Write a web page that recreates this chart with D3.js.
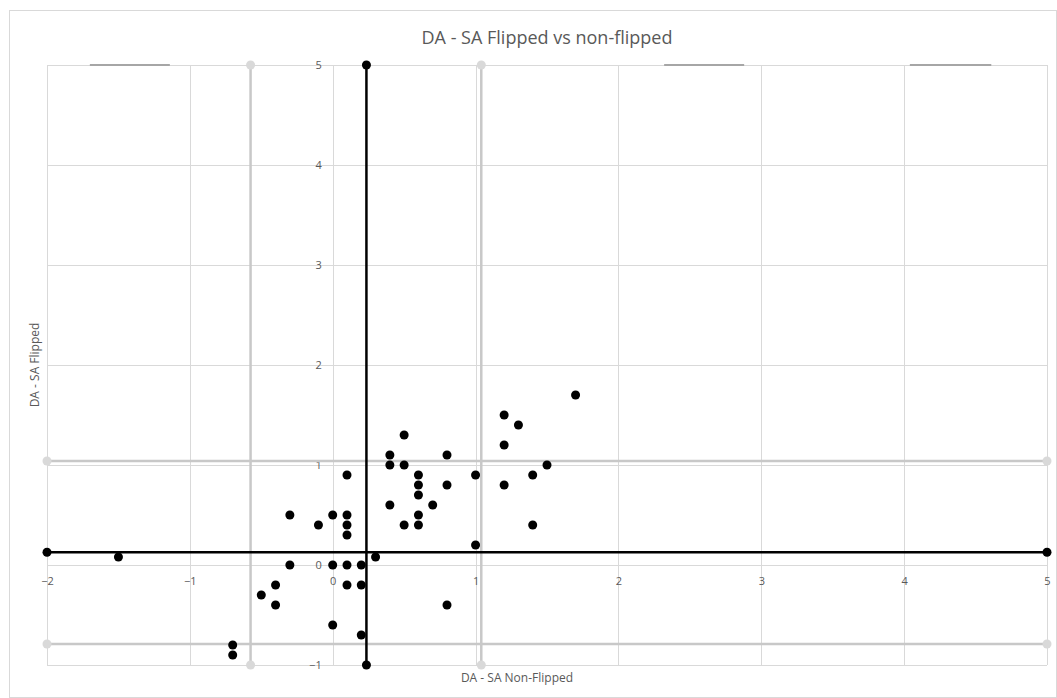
<!DOCTYPE html>
<html>
<head>
<meta charset="utf-8">
<script src="https://cdn.jsdelivr.net/npm/d3@7"></script>
<style>
  html, body { margin: 0; padding: 0; background: #fff; }
  svg { display: block; }
  text { font-family: "Liberation Sans Narrow", "Open Sans", sans-serif; fill: #595959; }
</style>
</head>
<body>
<svg id="chart" width="1057" height="698"></svg>
<script>
// ---- Data ----
const title = "DA - SA Flipped vs non-flipped";
const xTitle = "DA - SA Non-Flipped";
const yTitle = "DA - SA Flipped";
const xTicks = [-2, -1, 0, 1, 2, 3, 4, 5];
const yTicks = [-1, 0, 1, 2, 3, 4, 5];

// scatter points: non-flipped (x) vs flipped (y)
const xValues = [1.7, 1.2, 1.3, 0.5, 1.2, 0.4, 0.8, 0.4, 0.5, 1.5,
                 0.1, 0.6, 1.0, 1.4, 0.6, 0.8, 1.2, 0.6, 0.7, 0.4,
                 -0.3, 0.0, 0.1, 0.6, -0.1, 0.1, 0.5, 0.6, 1.4, 0.1,
                 1.0, 0.3, -0.3, 0.0, 0.1, 0.2, -0.4, 0.1, 0.2, -0.5,
                 -0.4, 0.8, 0.0, -1.5, -0.7, -0.7, 0.2];
const yValues = [1.7, 1.5, 1.4, 1.3, 1.2, 1.1, 1.1, 1.0, 1.0, 1.0,
                 0.9, 0.9, 0.9, 0.9, 0.8, 0.8, 0.8, 0.7, 0.6, 0.6,
                 0.5, 0.5, 0.5, 0.5, 0.4, 0.4, 0.4, 0.4, 0.4, 0.3,
                 0.2, 0.08, 0.0, 0.0, 0.0, 0.0, -0.2, -0.2, -0.2, -0.3,
                 -0.4, -0.4, -0.6, 0.08, -0.8, -0.9, -0.7];

// reference lines (mean and mean ± SD)
const meanX = 0.236, sdLowX = -0.575, sdHighX = 1.04;
const meanY = 0.127, sdLowY = -0.79, sdHighY = 1.04;
const xDomain = [-2, 5];
const yDomain = [-1, 5];
// short gray segments along the top edge (x start, x end) at y = 5
const topSegStart = [-1.70, 2.32, 4.04];
const topSegEnd = [-1.14, 2.88, 4.61];

// ---- Layout ----
const svg = d3.select("#chart");
const plot = { left: 47, right: 1047, top: 65, bottom: 665 };
const x = d3.scaleLinear().domain(xDomain).range([plot.left, plot.right]);
const y = d3.scaleLinear().domain(yDomain).range([plot.bottom, plot.top]);

// chart border
svg.append("rect").attr("x", 9.5).attr("y", 10.5).attr("width", 1047).attr("height", 687)
  .attr("fill", "#fff").attr("stroke", "#d9d9d9").attr("stroke-width", 1);

// gridlines
const grid = svg.append("g");
grid.selectAll(".vg").data(xTicks).join("line")
  .attr("x1", d => Math.round(x(d)) + 0.5).attr("x2", d => Math.round(x(d)) + 0.5)
  .attr("y1", plot.top).attr("y2", plot.bottom)
  .attr("stroke", "#d9d9d9").attr("stroke-width", 1);
grid.selectAll(".hg").data(yTicks).join("line")
  .attr("y1", d => Math.round(y(d)) + 0.5).attr("y2", d => Math.round(y(d)) + 0.5)
  .attr("x1", plot.left).attr("x2", plot.right)
  .attr("stroke", "#d9d9d9").attr("stroke-width", 1);

// x axis tick labels (axis crosses at y = 0)
const xAxis = d3.axisBottom(x).tickValues(xTicks).tickSize(0).tickPadding(0).tickFormat(d3.format("d"));
const gx = svg.append("g").attr("transform", `translate(0,${y(0) + 12})`).call(xAxis);
gx.select(".domain").remove();
gx.selectAll("text").attr("font-size", 11).attr("fill", "#595959")
  .style("font-family", "'Liberation Sans Narrow', 'Open Sans', sans-serif");

// y axis tick labels (axis crosses at x = 0)
const yAxis = d3.axisLeft(y).tickValues(yTicks).tickSize(0).tickPadding(0).tickFormat(d3.format("d"));
const gy = svg.append("g").attr("transform", `translate(${x(0) - 11},0)`).call(yAxis);
gy.select(".domain").remove();
gy.selectAll("text").attr("font-size", 11).attr("fill", "#595959")
  .style("font-family", "'Liberation Sans Narrow', 'Open Sans', sans-serif");

// short gray segments at the top
svg.append("g").selectAll("line").data(topSegStart).join("line")
  .attr("x1", d => x(d)).attr("x2", (d, i) => x(topSegEnd[i]))
  .attr("y1", y(5)).attr("y2", y(5))
  .attr("stroke", "#a6a6a6").attr("stroke-width", 2);

// SD lines (gray)
const grayCol = "#c8c8c8", grayDot = "#d9d9d9";
const sdV = [sdLowX, sdHighX], sdH = [sdLowY, sdHighY];
const gGray = svg.append("g");
gGray.selectAll(".sv").data(sdV).join("line")
  .attr("x1", d => x(d)).attr("x2", d => x(d)).attr("y1", y(5)).attr("y2", y(-1))
  .attr("stroke", grayCol).attr("stroke-width", 2.5);
gGray.selectAll(".sh").data(sdH).join("line")
  .attr("y1", d => y(d)).attr("y2", d => y(d)).attr("x1", x(-2)).attr("x2", x(5))
  .attr("stroke", grayCol).attr("stroke-width", 2.5);
const grayEnds = [];
sdV.forEach(v => { grayEnds.push([v, 5]); grayEnds.push([v, -1]); });
sdH.forEach(v => { grayEnds.push([-2, v]); grayEnds.push([5, v]); });
gGray.selectAll("circle").data(grayEnds).join("circle")
  .attr("cx", d => x(d[0])).attr("cy", d => y(d[1])).attr("r", 4.5).attr("fill", grayDot);

// scatter points
svg.append("g").selectAll("circle").data(xValues.map((v, i) => [v, yValues[i]])).join("circle")
  .attr("cx", d => x(d[0])).attr("cy", d => y(d[1])).attr("r", 4.5).attr("fill", "#000");

// mean lines (black)
const gMean = svg.append("g");
gMean.append("line").attr("x1", x(meanX)).attr("x2", x(meanX)).attr("y1", y(5)).attr("y2", y(-1))
  .attr("stroke", "#000").attr("stroke-width", 2.5);
gMean.append("line").attr("y1", y(meanY)).attr("y2", y(meanY)).attr("x1", x(-2)).attr("x2", x(5))
  .attr("stroke", "#000").attr("stroke-width", 2.5);
const meanEnds = [[meanX, 5], [meanX, -1], [-2, meanY], [5, meanY]];
gMean.selectAll("circle").data(meanEnds).join("circle")
  .attr("cx", d => x(d[0])).attr("cy", d => y(d[1])).attr("r", 4.5).attr("fill", "#000");

// titles
svg.append("text").attr("x", 547).attr("y", 44).attr("text-anchor", "middle")
  .attr("font-size", 18).text(title);
svg.append("text").attr("x", 517).attr("y", 682).attr("text-anchor", "middle")
  .attr("font-size", 12).text(xTitle);
svg.append("text").attr("transform", "translate(39,365) rotate(-90)").attr("text-anchor", "middle")
  .attr("font-size", 12).text(yTitle);
</script>
</body>
</html>
